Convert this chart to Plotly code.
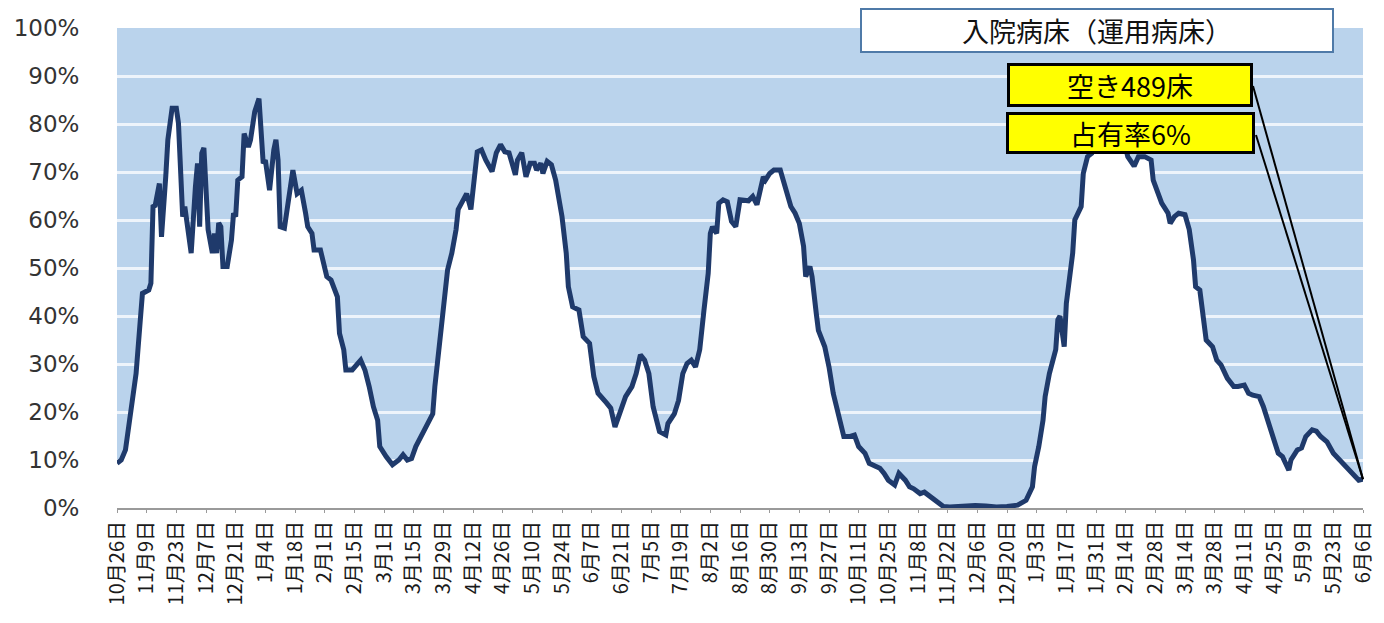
import pandas as pd
import plotly.graph_objects as go

start_date = "2020-10-26"

day_offsets = [0,2,4,6,8,9,11,12,15,16,17,18,20,21,23,24,26,28,29,30,31,32,34,35,37,38,39,40,41,42,43,45,46,47,48,49,50,52,54,55,56,57,59,60,62,63,65,67,69,70,72,74,75,76,77,79,81,83,85,87,89,90,92,93,96,99,101,104,105,107,108,111,115,117,119,121,123,124,127,129,130,133,135,137,139,141,144,146,149,150,152,154,156,158,160,161,163,165,167,168,170,172,174,177,179,181,183,185,188,189,191,193,195,197,198,200,201,203,205,207,208,210,212,213,215,218,220,223,225,227,231,233,235,238,240,243,245,247,249,251,253,256,259,260,263,265,267,269,271,273,275,277,279,280,281,283,284,286,288,290,292,294,298,300,302,305,306,308,310,313,315,316,318,320,322,324,325,327,328,330,331,334,336,338,340,342,343,346,348,350,353,355,357,360,362,364,367,369,372,374,376,379,381,383,386,388,390,393,396,400,405,410,415,420,425,429,432,433,435,437,438,440,443,444,445,447,448,451,452,455,456,458,460,462,465,469,474,476,477,480,482,485,488,489,491,493,496,497,499,501,504,506,508,509,511,513,514,517,519,521,524,527,529,532,534,536,539,541,543,546,548,550,553,554,557,559,561,564,566,568,571,574,577,580,584,586,588]

occupancy_pct = [9.3,10,12.1,19,23.9,28,39.2,44.7,45.4,46.8,62.8,63,67.6,56.5,69,76.7,83.3,83.3,80.2,66.9,60.7,62.8,57.2,53.1,66.9,71.8,58.6,73.9,75,66.9,58,53.1,57.2,53.1,59.4,58.6,50.3,50.3,55.8,61.4,60.7,68.3,69,78,75.2,76.7,82.6,85.3,71.8,72.5,66.2,74.6,76.7,72.5,58.6,58.3,64.9,70.4,65.5,66.2,61.4,58.6,57.2,53.75,53.75,48.2,47.5,44,36.4,33,28.75,28.75,30.8,28.75,25.3,21.1,18.3,12.8,10.7,9.3,9,10,11.1,10,10.3,12.8,15.2,17.2,19.6,25.3,33.6,41.25,49.6,53.1,58,62.2,63.9,65.5,62.2,66.2,74.2,74.6,72.5,70.1,74,75.7,74.2,74,69.4,72.5,74,69,71.8,71.8,70.4,71.8,69.7,72.2,71.5,68.3,65.5,60.7,53.1,46.1,41.9,41.25,35.7,34.3,27.4,23.9,21.9,20.8,16.9,20.4,23.2,25.3,28,31.9,30.8,28,21.1,15.9,15.2,17.6,19.6,22.4,28,30.1,30.8,29.4,33,41.25,48.9,57.2,58.6,57.2,63.5,64.2,63.8,59.7,58.6,64.2,64,64.9,63.2,69,68.3,69.7,70.4,70.4,67.6,66.2,62.8,61.4,59.3,54.5,48.2,50.3,48.2,40.5,37,33.6,29.4,23.9,20.4,16.9,14.9,14.9,15.2,12.8,11.4,9.3,9,8.3,7.2,5.8,4.8,7.2,5.8,4.4,4,3,3.3,2.6,1.6,0.9,0.3,0.2,0.3,0.5,0.5,0.4,0.2,0.3,0.6,1.6,4.4,8.6,12.8,18.3,23.2,28,33,39.2,40,33.6,42.6,53.1,60,62.8,69.7,73.2,73.9,77,79,80,78,75,73.2,71.2,73.2,73.2,72.5,68.3,66.2,63.5,61.4,59.3,60.7,61.4,61.1,58,51.7,46.1,45.4,39.2,35,33.6,30.8,29.8,27,25.3,25.3,25.6,23.9,23.5,23.2,21.1,18.3,13.5,11.4,10.7,7.9,10,12.1,12.5,14.9,16.3,16,14.9,13.8,11.4,10,8.6,6.5,5.8,6]

tick_labels = ["10月26日","11月9日","11月23日","12月7日","12月21日","1月4日","1月18日","2月1日",
               "2月15日","3月1日","3月15日","3月29日","4月12日","4月26日","5月10日","5月24日",
               "6月7日","6月21日","7月5日","7月19日","8月2日","8月16日","8月30日","9月13日",
               "9月27日","10月11日","10月25日","11月8日","11月22日","12月6日","12月20日","1月3日",
               "1月17日","1月31日","2月14日","2月28日","3月14日","3月28日","4月11日","4月25日",
               "5月9日","5月23日","6月6日"]

y_tick_values = [0, 10, 20, 30, 40, 50, 60, 70, 80, 90, 100]
y_tick_labels = ["0%", "10%", "20%", "30%", "40%", "50%", "60%", "70%", "80%", "90%", "100%"]

title_text = "入院病床（運用病床）"
vacant_text = "空き489床"
rate_text = "占有率6%"

assert len(day_offsets) == len(occupancy_pct)

start = pd.Timestamp(start_date)
dates = [start + pd.Timedelta(days=d) for d in day_offsets]
tick_dates = list(pd.date_range(start, periods=len(tick_labels), freq="14D"))

fig = go.Figure()
fig.add_trace(go.Scatter(
    x=dates, y=occupancy_pct, mode="lines",
    line=dict(color="#1f3a6b", width=5),
    fill="tozeroy", fillcolor="white",
    hoverinfo="skip", showlegend=False,
))

# page body has an 8px margin: size the figure so the plot lands where the reference has it
OFF = 8
W, H = 1384 - OFF, 623 - OFF
L, R, T, B = 117 - OFF, 21, 28 - OFF, 115
pw, ph = W - L - R, H - T - B

def px(x):
    return (x - OFF - L) / pw

def py(y):
    return (H - B - (y - OFF)) / ph

cjk = "Noto Sans CJK JP"

annotations = [
    dict(text=title_text, x=px(1097), y=py(31), xref="paper", yref="paper",
         showarrow=False, font=dict(family=cjk, size=27, color="#111"),
         bgcolor="white", bordercolor="#4f7aa8", borderwidth=2, borderpad=0,
         width=470, height=41, xanchor="center", yanchor="middle"),
    dict(text=vacant_text, x=px(1129.5), y=py(85), xref="paper", yref="paper",
         showarrow=False, font=dict(family=cjk, size=27, color="#000"),
         bgcolor="#ffff00", bordercolor="#000", borderwidth=3, borderpad=0,
         width=240, height=38, xanchor="center", yanchor="middle"),
    dict(text=rate_text, x=px(1130), y=py(133), xref="paper", yref="paper",
         showarrow=False, font=dict(family=cjk, size=27, color="#000"),
         bgcolor="#ffff00", bordercolor="#000", borderwidth=3, borderpad=0,
         width=243, height=36, xanchor="center", yanchor="middle"),
]

end_y = occupancy_pct[-1] / 100.0
shapes = [
    dict(type="line", xref="paper", yref="paper", x0=px(1253), y0=py(86), x1=1.0, y1=end_y,
         line=dict(color="black", width=2)),
    dict(type="line", xref="paper", yref="paper", x0=px(1256), y0=py(135), x1=1.0, y1=end_y,
         line=dict(color="black", width=2)),
]

fig.update_layout(
    width=W, height=H,
    margin=dict(l=L, r=R, t=T, b=B, pad=0, autoexpand=False),
    paper_bgcolor="white",
    plot_bgcolor="#bad3ec",
    annotations=annotations,
    shapes=shapes,
    xaxis=dict(
        range=[dates[0], dates[-1]],
        tickmode="array", tickvals=tick_dates, ticktext=tick_labels,
        tickangle=-90, tickfont=dict(family=cjk, size=20, color="#1a1a1a"),
        showgrid=False, zeroline=False,
        showline=True, linecolor="#9a9a9a", linewidth=2,
        ticks="outside", ticklen=3, tickcolor="#9a9a9a",
    ),
    yaxis=dict(
        range=[0, 100], tickmode="array", tickvals=y_tick_values, ticktext=y_tick_labels,
        tickfont=dict(family="DejaVu Sans", size=23, color="#333"),
        showgrid=True, gridcolor="#eef4fb", gridwidth=2.5,
        zeroline=False, showline=False,
        ticks="outside", ticklen=32, tickcolor="rgba(0,0,0,0)",
    ),
)

fig.write_html("out.html")
